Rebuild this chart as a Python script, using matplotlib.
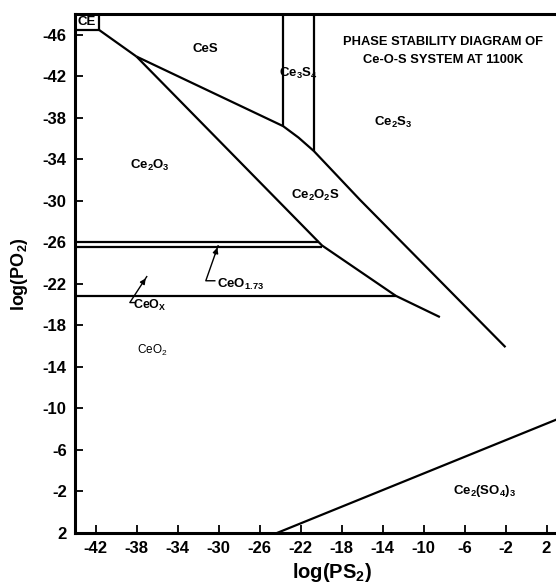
import matplotlib
matplotlib.use("Agg")
import matplotlib.pyplot as plt
import numpy as np

# ---- data (log PS2, log PO2) ----
ce_line_x = [-41.7, -38.0]
ce_line_y = [-46.5, -43.9]

upper_x = [-38.0, -23.7, -22.2, -20.7, -16.2, -2.0]
upper_y = [-43.9, -37.2, -36.1, -34.8, -30.1, -15.9]

lower_x = [-38.0, -19.9, -12.7, -8.4]
lower_y = [-43.9, -25.7, -20.85, -18.8]

ce3s4_left_x = [-23.7, -23.7]
ce3s4_left_y = [-48.0, -37.2]
ce3s4_right_x = [-20.7, -20.7]
ce3s4_right_y = [-48.0, -34.8]

ceo173_top_y = -26.0
ceo173_top_xend = -20.2
ceo173_bot_y = -25.6
ceo173_bot_xend = -19.9
ceox_y = -20.8
ceox_xend = -12.7

sulfate_x = [-24.3, 4.0]
sulfate_y = [2.0, -9.34]

xticks = [-42, -38, -34, -30, -26, -22, -18, -14, -10, -6, -2, 2]
yticks = [-46, -42, -38, -34, -30, -26, -22, -18, -14, -10, -6, -2, 2]
xlim = (-44, 4)
ylim = (2, -48)

plt.rcParams['font.family'] = ['Liberation Sans', 'DejaVu Sans']
plt.rcParams['font.weight'] = 'bold'
plt.rcParams['mathtext.fontset'] = 'custom'
plt.rcParams['mathtext.rm'] = 'Liberation Sans:bold'
plt.rcParams['mathtext.default'] = 'regular'

W, H = 556, 585
fig = plt.figure(figsize=(W / 100, H / 100), dpi=100)
left_px, right_px, top_px, bot_px = 75, 567, 14, 533
ax = fig.add_axes([left_px / W, 1 - bot_px / H, (right_px - left_px) / W, (bot_px - top_px) / H])
ax.set_xlim(*xlim)
ax.set_ylim(*ylim)

lw = 1.6
kw = dict(color='black', lw=lw, solid_capstyle='butt')
ax.plot(ce_line_x, ce_line_y, **kw)
ax.plot(upper_x, upper_y, **kw)
ax.plot(lower_x, lower_y, **kw)
ax.plot(ce3s4_left_x, ce3s4_left_y, **kw)
ax.plot(ce3s4_right_x, ce3s4_right_y, **kw)
ax.plot([xlim[0], ceo173_top_xend], [ceo173_top_y] * 2, **kw)
ax.plot([xlim[0], ceo173_bot_xend], [ceo173_bot_y] * 2, **kw)
ax.plot([xlim[0], ceox_xend], [ceox_y] * 2, **kw)
ax.plot(sulfate_x, sulfate_y, **kw)

# CE box
ax.plot([-44, -41.7, -41.7], [-46.5, -46.5, -48], **kw)
ax.text(-42.85, -47.2, 'CE', ha='center', va='center', fontsize=9.5, fontweight='bold')

fs = 9.5
ax.text(-31.3, -44.65, 'CeS', ha='center', va='center', fontsize=fs)
ax.text(-22.2, -42.3, 'Ce$_3$S$_4$', ha='center', va='center', fontsize=fs)
ax.text(-8.1, -45.3, 'PHASE STABILITY DIAGRAM OF', ha='center', va='center', fontsize=9.3)
ax.text(-8.1, -43.55, 'Ce-O-S SYSTEM AT 1100K', ha='center', va='center', fontsize=9.3)
ax.text(-13.0, -37.6, 'Ce$_2$S$_3$', ha='center', va='center', fontsize=fs)
ax.text(-36.7, -33.4, 'Ce$_2$O$_3$', ha='center', va='center', fontsize=fs)
ax.text(-20.5, -30.5, 'Ce$_2$O$_2$S', ha='center', va='center', fontsize=fs)
ax.text(-36.5, -15.6, 'CeO$_2$', ha='center', va='center', fontsize=8.5, fontweight='normal')
ax.text(-4.0, -2.0, 'Ce$_2$(SO$_4$)$_3$', ha='center', va='center', fontsize=fs)

# callouts
ax.plot([-30.36, -31.24, -30.04], [-22.3, -22.3, -25.67], color='black', lw=1.0)
ax.annotate('', xy=(-30.04, -25.75), xytext=(-30.4, -24.6),
            arrowprops=dict(arrowstyle='-|>', color='black', lw=1.0, mutation_scale=8))
ax.text(-30.1, -21.9, 'CeO$_{1.73}$', ha='left', va='center', fontsize=9.5)

ax.plot([-38.1, -38.65, -37.0], [-20.2, -20.2, -22.7], color='black', lw=1.0)
ax.annotate('', xy=(-36.95, -22.75), xytext=(-37.5, -21.95),
            arrowprops=dict(arrowstyle='-|>', color='black', lw=1.0, mutation_scale=8))
ax.text(-38.35, -19.95, 'CeO$_X$', ha='left', va='center', fontsize=9)

ax.set_xticks(xticks)
ax.set_xticklabels([str(v) for v in xticks])
ax.set_yticks(yticks)
ax.set_yticklabels([str(v) for v in yticks])
ax.tick_params(direction='in', length=6, width=1.3, labelsize=12, pad=6)
for lab in ax.get_xticklabels() + ax.get_yticklabels():
    lab.set_fontweight('bold')
for s in ['left', 'bottom', 'top']:
    ax.spines[s].set_linewidth(2.2)
ax.spines['right'].set_visible(False)

fig.text(332 / W, 1 - 573 / H, 'log(PS$_2$)', ha='center', va='center', fontsize=14.5, fontweight='bold')
fig.text(19 / W, 1 - 274 / H, 'log(PO$_2$)', ha='center', va='center', rotation=90, fontsize=13, fontweight='bold')

fig.savefig('out.png', dpi=100)
